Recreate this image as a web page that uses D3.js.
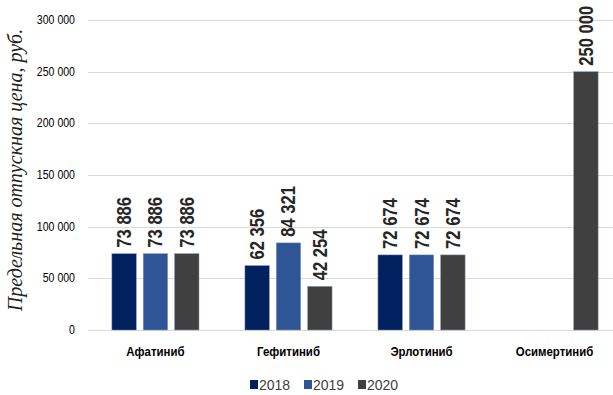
<!DOCTYPE html>
<html>
<head>
<meta charset="utf-8">
<script src="https://cdn.jsdelivr.net/npm/d3@7"></script>
<style>
  body { margin: 0; background: #fff; }
  svg { display: block; }
</style>
</head>
<body>
<script>
const drugs = ["Афатиниб", "Гефитиниб", "Эрлотиниб", "Осимертиниб"]
const years = ["2018", "2019", "2020"]
const v2018 = [73886, 62356, 72674, null]
const v2019 = [73886, 84321, 72674, null]
const v2020 = [73886, 42254, 72674, 250000]
const yTicks = [0, 50000, 100000, 150000, 200000, 250000, 300000]
const colors = ["#002060", "#2f5597", "#404040"]

const w = 613
const h = 395
const series = [v2018, v2019, v2020]
const sans = "'Liberation Sans', Arial, sans-serif"

const fmt = d => d3.format(",")(d).replace(/,/g, " ")

const x0 = d3.scaleBand()
  .domain(drugs)
  .range([89, 621])
  .paddingInner(0.345)
  .paddingOuter(0.172)

const x1 = d3.scaleBand()
  .domain(years)
  .range([0, x0.bandwidth()])
  .paddingInner(0.22)

const y = d3.scaleLinear()
  .domain([0, 300000])
  .range([330, 20])

const svg = d3.select("body")
  .append("svg")
  .attr("width", w)
  .attr("height", h)

// gridlines
svg.append("g")
  .selectAll("line")
  .data(yTicks)
  .enter()
  .append("line")
  .attr("x1", 88)
  .attr("x2", w)
  .attr("y1", d => Math.round(y(d)) + 0.5)
  .attr("y2", d => Math.round(y(d)) + 0.5)
  .attr("stroke", "#d9d9d9")
  .attr("stroke-width", 1)

// y tick labels (narrow look)
svg.append("g")
  .selectAll("text")
  .data(yTicks)
  .enter()
  .append("text")
  .attr("transform", d => `translate(75,${y(d) + 4}) scale(0.88,1)`)
  .attr("text-anchor", "end")
  .attr("font-family", sans)
  .attr("font-size", "12px")
  .attr("fill", "#000")
  .text(fmt)

// y axis title
svg.append("text")
  .attr("transform", "translate(22,170) rotate(-90)")
  .attr("text-anchor", "middle")
  .attr("font-family", "'Liberation Serif', 'Times New Roman', serif")
  .attr("font-style", "italic")
  .attr("font-size", "20px")
  .attr("fill", "#222")
  .text("Предельная отпускная цена, руб.")

// bars
const groups = svg.append("g")
  .selectAll("g")
  .data(drugs)
  .enter()
  .append("g")
  .attr("transform", d => `translate(${x0(d)},0)`)

const cells = groups.selectAll("g")
  .data((d, i) => years.map((yr, j) => ({ yr, j, v: series[j][i] })).filter(c => c.v != null))
  .enter()
  .append("g")

cells.append("rect")
  .attr("x", d => x1(d.yr))
  .attr("y", d => y(d.v))
  .attr("width", x1.bandwidth())
  .attr("height", d => y(0) - y(d.v))
  .attr("fill", d => colors[d.j])
  .attr("stroke", "#8a9bb8")
  .attr("stroke-width", 0.5)

// value labels
cells.append("text")
  .attr("transform", d => `translate(${x1(d.yr) + x1.bandwidth() / 2 + 7},${y(d.v) - 6}) rotate(-90) scale(0.83,1)`)
  .attr("text-anchor", "start")
  .attr("font-family", sans)
  .attr("font-weight", "bold")
  .attr("font-size", "20px")
  .attr("fill", "#262626")
  .text(d => fmt(d.v))

// category labels
svg.append("g")
  .selectAll("text")
  .data(drugs)
  .enter()
  .append("text")
  .attr("transform", d => `translate(${x0(d) + x0.bandwidth() / 2},356) scale(0.88,1)`)
  .attr("text-anchor", "middle")
  .attr("font-family", sans)
  .attr("font-weight", "bold")
  .attr("font-size", "13px")
  .attr("fill", "#000")
  .text(d => d)

// legend
const legendX = [250, 304, 358]
const legend = svg.append("g")
  .selectAll("g")
  .data(years)
  .enter()
  .append("g")
  .attr("transform", (d, i) => `translate(${legendX[i]},380)`)

legend.append("rect")
  .attr("width", 8)
  .attr("height", 9)
  .attr("fill", (d, i) => colors[i])

legend.append("text")
  .attr("x", 9)
  .attr("y", 10)
  .attr("font-family", sans)
  .attr("font-size", "14px")
  .attr("fill", "#404040")
  .text(d => d)
</script>
</body>
</html>
